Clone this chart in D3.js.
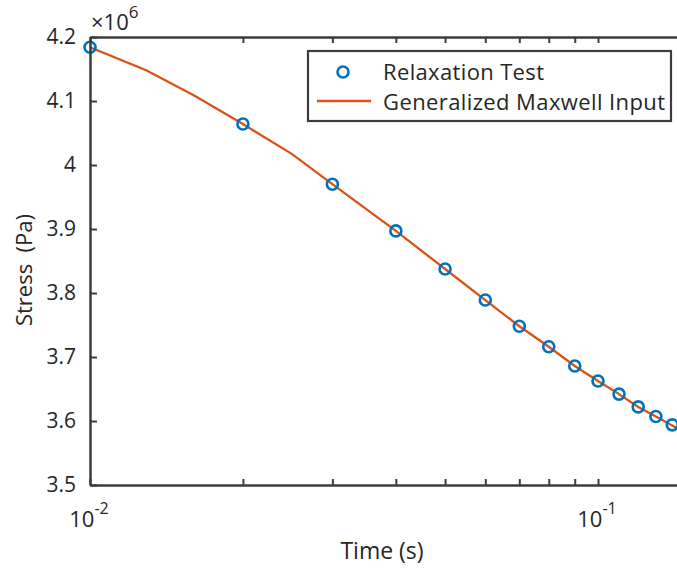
<!DOCTYPE html>
<html>
<head>
<meta charset="utf-8">
<script src="https://cdn.jsdelivr.net/npm/d3@7"></script>
<style>
  body { margin: 0; background: #fff; }
  svg text { font-family: "Open Sans", sans-serif; fill: #262626; }
</style>
</head>
<body>
<svg width="677" height="572"></svg>
<script>
// relaxation test (markers)
var testTime = [0.01, 0.02, 0.03, 0.04, 0.05, 0.06, 0.07, 0.08, 0.09, 0.10, 0.11, 0.12, 0.13, 0.14];
var testStress = [4.184, 4.064, 3.970, 3.897, 3.8375, 3.789, 3.748, 3.716, 3.686, 3.6625, 3.642, 3.622, 3.607, 3.594];

// generalized maxwell input (line)
var fitTime = [0.01, 0.0129, 0.016, 0.02, 0.025, 0.03, 0.04, 0.05, 0.06, 0.07, 0.08, 0.09, 0.10, 0.11, 0.12, 0.13, 0.14, 0.15];
var fitStress = [4.184, 4.148, 4.109, 4.064, 4.017, 3.970, 3.897, 3.8375, 3.789, 3.748, 3.716, 3.686, 3.6625, 3.642, 3.622, 3.607, 3.593, 3.580];

var yTicks = [3.5, 3.6, 3.7, 3.8, 3.9, 4.0, 4.1, 4.2];
var xMajor = [0.01, 0.1];
var xMinor = [0.02, 0.03, 0.04, 0.05, 0.06, 0.07, 0.08, 0.09];

var svg = d3.select("svg");
var mLeft = 90, mTop = 37, mBottom = 485;

var x = d3.scaleLog().domain([0.01, 0.15]).range([mLeft, mLeft + 508 * Math.log10(15)]);
var y = d3.scaleLinear().domain([3.5, 4.2]).range([mBottom, mTop]);
var mRight = x(0.15);

var axisCol = "#3c3c3c";

svg.append("clipPath").attr("id", "clip")
  .append("rect").attr("x", mLeft).attr("y", mTop).attr("width", mRight - mLeft).attr("height", mBottom - mTop);

// line
var ligne = d3.line()
  .x(function (d, i) { return x(fitTime[i]); })
  .y(function (d) { return y(d); });

svg.append("path")
  .datum(fitStress)
  .attr("clip-path", "url(#clip)")
  .attr("d", ligne)
  .attr("fill", "none")
  .attr("stroke", "#D95319")
  .attr("stroke-width", 2.3);

// markers
svg.selectAll("circle.pt")
  .data(testStress)
  .enter()
  .append("circle")
    .classed("pt", true)
    .attr("cx", function (d, i) { return x(testTime[i]); })
    .attr("cy", function (d) { return y(d); })
    .attr("r", 5.5)
    .attr("fill", "none")
    .attr("stroke", "#0072BD")
    .attr("stroke-width", 2.6);

// axes
var axeY = d3.axisLeft(y).tickValues(yTicks).tickSizeInner(-7).tickSizeOuter(0).tickPadding(14)
  .tickFormat(function (d) { return d3.format("")(+d.toFixed(1)); });
var gY = svg.append("g").attr("transform", "translate(" + mLeft + ",0)").call(axeY);

var axeX = d3.axisBottom(x).tickValues(xMajor.concat(xMinor)).tickSizeInner(-6).tickSizeOuter(0).tickFormat("");
var gX = svg.append("g").attr("transform", "translate(0," + mBottom + ")").call(axeX);

var axeTop = d3.axisTop(x).tickValues(xMajor.concat(xMinor)).tickSizeInner(-6).tickSizeOuter(0).tickFormat("");
var gT = svg.append("g").attr("transform", "translate(0," + mTop + ")").call(axeTop);

[gY, gX, gT].forEach(function (g) {
  g.select(".domain").attr("stroke", axisCol).attr("stroke-width", 2.5);
  g.selectAll(".tick line").attr("stroke", axisCol).attr("stroke-width", 2);
  g.selectAll("text").attr("font-size", 21).attr("fill", "#262626").style("font-family", "'Open Sans', sans-serif");
});

// x tick labels 10^-2, 10^-1
xMajor.forEach(function (v) {
  var t = svg.append("text")
    .attr("x", x(v) - 1)
    .attr("y", 527)
    .attr("text-anchor", "middle")
    .attr("font-size", 22);
  t.append("tspan").text("10");
  t.append("tspan").attr("dy", -13).attr("font-size", 16).text(Math.round(Math.log10(v)));
});

// exponent
var ex = svg.append("text").attr("x", 91).attr("y", 30).attr("font-size", 22);
ex.append("tspan").text("\u00d710");
ex.append("tspan").attr("dy", -12).attr("font-size", 17).text("6");

// axis titles
svg.append("text")
  .attr("x", 382)
  .attr("y", 559)
  .attr("text-anchor", "middle")
  .attr("font-size", 23)
  .text("Time (s)");

svg.append("text")
  .attr("transform", "translate(32," + ((mTop + mBottom) / 2 + 9) + ") rotate(-90)")
  .attr("text-anchor", "middle")
  .attr("font-size", 22)
  .style("white-space", "pre")
  .text("Stress  (Pa)");

// legend
var leg = svg.append("g");
leg.append("rect")
  .attr("x", 308).attr("y", 51).attr("width", 363).attr("height", 70)
  .attr("fill", "#fff").attr("stroke", axisCol).attr("stroke-width", 2.2);
leg.append("circle")
  .attr("cx", 343).attr("cy", 72).attr("r", 5.5)
  .attr("fill", "none").attr("stroke", "#0072BD").attr("stroke-width", 2.6);
leg.append("line")
  .attr("x1", 317).attr("x2", 371).attr("y1", 101).attr("y2", 101)
  .attr("stroke", "#D95319").attr("stroke-width", 2.3);
leg.append("text").attr("x", 383).attr("y", 80).attr("font-size", 22).attr("textLength", 161).text("Relaxation Test");
leg.append("text").attr("x", 383).attr("y", 110).attr("font-size", 22).attr("textLength", 282).text("Generalized Maxwell Input");
</script>
</body>
</html>
